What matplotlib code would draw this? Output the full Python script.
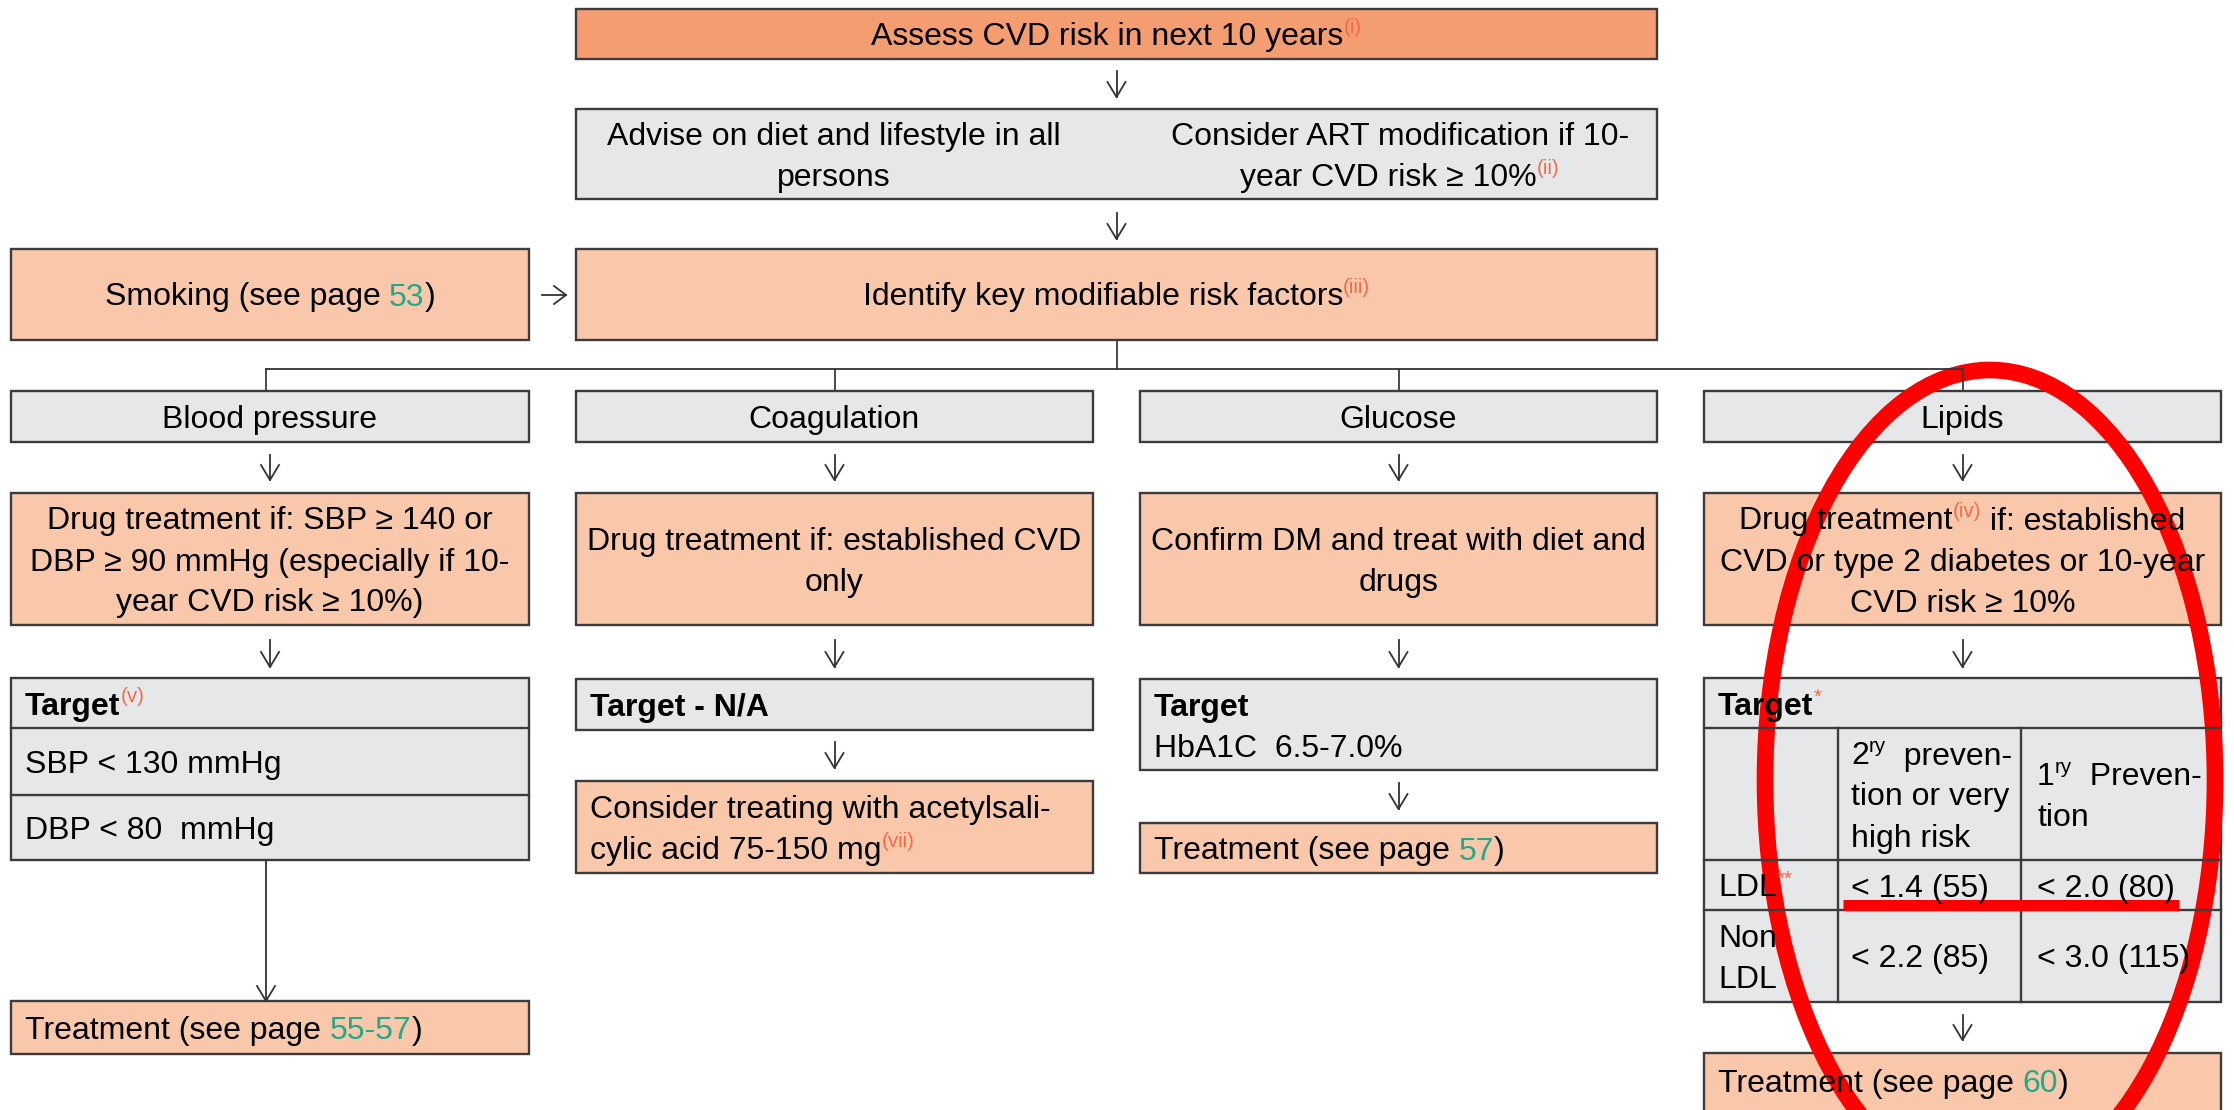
import re
import matplotlib.pyplot as plt
from matplotlib.patches import Rectangle, Ellipse

plt.rcParams['font.family'] = ['Liberation Sans', 'DejaVu Sans']

# ---- text content of the flow chart ----
# markup: ^{..} red superscript, ~{..} black superscript, #{..} green page ref
top_text = 'Assess CVD risk in next 10 years^{(i)}'
advise_left = ['Advise on diet and lifestyle in all', 'persons']
advise_right = ['Consider ART modification if 10-', 'year CVD risk ≥ 10%^{(ii)}']
smoking_text = 'Smoking (see page #{53})'
identify_text = 'Identify key modifiable risk factors^{(iii)}'
risk_factors = ['Blood pressure', 'Coagulation', 'Glucose', 'Lipids']
drug_treatment = [
    ['Drug treatment if: SBP ≥ 140 or', 'DBP ≥ 90 mmHg (especially if 10-',
     'year CVD risk ≥ 10%)'],
    ['Drug treatment if: established CVD', 'only'],
    ['Confirm DM and treat with diet and', 'drugs'],
    ['Drug treatment^{(iv)} if: established', 'CVD or type 2 diabetes or 10-year',
     'CVD risk ≥ 10%'],
]
bp_header = 'Target^{(v)}'
bp_targets = ['SBP < 130 mmHg', 'DBP < 80  mmHg']
coag_header = 'Target - N/A'
aspirin_text = ['Consider treating with acetylsali-', 'cylic acid 75-150 mg^{(vii)}']
glucose_header = 'Target'
glucose_target = 'HbA1C  6.5-7.0%'
lipid_header = 'Target^{*}'
lipid_cols = [['2~{ry}  preven-', 'tion or very', 'high risk'], ['1~{ry}  Preven-', 'tion']]
lipid_rows = [['LDL^{**}'], ['Non', 'LDL']]
lipid_values = [['< 1.4 (55)', '< 2.0 (80)'], ['< 2.2 (85)', '< 3.0 (115)']]
treatment_text = ['Treatment (see page #{55-57})', 'Treatment (see page #{57})',
                  'Treatment (see page #{60})']

# ---- styles ----
W, H = 2234, 1110
FS = 23
SUP = 0.64
PX = 100 / 72
DARK = '#F49D70'
LIGHT = '#F9C8AA'
GREY = '#E6E7E8'
EDGE = '#3C3C3C'
LINE = '#333333'
GREEN = '#22A98A'
SUPRED = '#F26A48'

fig = plt.figure(figsize=(W / 100, H / 100), dpi=100)
ax = fig.add_axes([0, 0, 1, 1])
ax.set_xlim(0, W)
ax.set_ylim(H, 0)
ax.axis('off')
renderer = fig.canvas.get_renderer()


def text_width(s, size, weight='normal'):
    t = ax.text(0, 0, '|' + s + '|', fontsize=size, weight=weight)
    w = t.get_window_extent(renderer).width
    t.set_text('||')
    w -= t.get_window_extent(renderer).width
    t.remove()
    return w


def parse(s):
    parts = []
    for tok in re.split(r'([\^#~]\{[^}]*\})', s):
        if not tok:
            continue
        if tok[0] in '^#~' and tok[1:2] == '{':
            body = tok[2:-1]
            if tok[0] == '^':
                parts.append((body, SUPRED, True))
            elif tok[0] == '~':
                parts.append((body, 'black', True))
            else:
                parts.append((body, GREEN, False))
        else:
            parts.append((tok, 'black', False))
    return parts


def rich(x, y, s, ha='center', weight='normal'):
    parts = parse(s)
    widths = []
    for p, c, sup in parts:
        if sup:
            widths.append(text_width(p, FS * SUP))
        else:
            widths.append(text_width(p, FS, weight))
    x0 = x - sum(widths) / 2 if ha == 'center' else x
    for (p, c, sup), w in zip(parts, widths):
        if sup:
            ax.text(x0, y - 0.38 * FS * PX, p, fontsize=FS * SUP, color=c,
                    ha='left', va='baseline')
        else:
            ax.text(x0, y, p, fontsize=FS, color=c, weight=weight,
                    ha='left', va='baseline')
        x0 += w


def lines_in(x, cy, lines, ha='center', weight='normal', gap=41):
    n = len(lines)
    for i, s in enumerate(lines):
        rich(x, cy + 11.5 + (i - (n - 1) / 2) * gap, s, ha=ha, weight=weight)


def box(x0, y0, x1, y1, fc):
    ax.add_patch(Rectangle((x0, y0), x1 - x0, y1 - y0, fc=fc, ec=EDGE, lw=1.7))


def hline(x0, x1, y):
    ax.plot([x0, x1], [y, y], color=EDGE, lw=1.7)


def vline(x, y0, y1, lw=1.7):
    ax.plot([x, x], [y0, y1], color=EDGE, lw=lw)


def arrow_down(x, y0, y1):
    ax.plot([x, x], [y0, y1], color=LINE, lw=1.3)
    ax.plot([x - 9, x, x + 9], [y1 - 15, y1, y1 - 15], color=LINE, lw=1.3)


def arrow_right(x0, x1, y):
    ax.plot([x0, x1], [y, y], color=LINE, lw=1.3)
    ax.plot([x1 - 12, x1, x1 - 12], [y - 9, y, y + 9], color=LINE, lw=1.3)


cols = [(11, 529), (576, 1093), (1140, 1657), (1704, 2221)]
centers = [(a + b) / 2 for a, b in cols]
mid = (cols[1][0] + cols[2][1]) / 2

# ---- top part ----
box(576, 9, 1657, 59, DARK)
lines_in(mid, 34, [top_text])
arrow_down(mid, 71, 97)

box(576, 109, 1657, 199, GREY)
lines_in(834, 154, advise_left)
lines_in(1400, 154, advise_right)
arrow_down(mid, 213, 239)

box(576, 249, 1657, 340, LIGHT)
lines_in(mid, 294, [identify_text])
box(11, 249, 529, 340, LIGHT)
lines_in(centers[0], 294, [smoking_text])
arrow_right(542, 566, 295)

# connector to the four risk factors
vline(mid, 340, 369, lw=1.3)
ax.plot([centers[0] - 4, centers[3]], [369, 369], color=LINE, lw=1.3)
for i, c in enumerate(centers):
    vline(c - 4 if i == 0 else c, 369, 391, lw=1.3)

for (x0, x1), c, name, drug in zip(cols, centers, risk_factors, drug_treatment):
    box(x0, 391, x1, 442, GREY)
    lines_in(c, 416.5, [name])
    arrow_down(c, 455, 480)
    box(x0, 493, x1, 625, LIGHT)
    lines_in(c, 559, drug)
    arrow_down(c, 640, 667)

# ---- blood pressure column ----
x0, x1 = cols[0]
box(x0, 678, x1, 860, GREY)
hline(x0, x1, 728)
hline(x0, x1, 795)
lines_in(25, 703, [bp_header], ha='left', weight='bold')
lines_in(25, 761.5, [bp_targets[0]], ha='left')
lines_in(25, 827.5, [bp_targets[1]], ha='left')
arrow_down(centers[0] - 4, 860, 1001)
box(x0, 1001, x1, 1054, LIGHT)
lines_in(25, 1027.5, [treatment_text[0]], ha='left')

# ---- coagulation column ----
x0, x1 = cols[1]
box(x0, 679, x1, 730, GREY)
lines_in(590, 704.5, [coag_header], ha='left', weight='bold')
arrow_down(centers[1], 742, 768)
box(x0, 781, x1, 873, LIGHT)
lines_in(590, 827, aspirin_text, ha='left')

# ---- glucose column ----
x0, x1 = cols[2]
box(x0, 679, x1, 770, GREY)
rich(1154, 716, glucose_header, ha='left', weight='bold')
rich(1154, 757, glucose_target, ha='left')
arrow_down(centers[2], 783, 809)
box(x0, 823, x1, 873, LIGHT)
lines_in(1154, 848, [treatment_text[1]], ha='left')

# ---- lipids column ----
x0, x1 = cols[3]
xa, xb = 1838, 2021
box(x0, 678, x1, 1002, GREY)
hline(x0, x1, 728)
hline(x0, x1, 860)
hline(x0, x1, 910)
vline(xa, 728, 1002)
vline(xb, 728, 1002)
lines_in(1718, 703, [lipid_header], ha='left', weight='bold')
lines_in(1851, 794, lipid_cols[0], ha='left')
lines_in(2037, 794, lipid_cols[1], ha='left')
row_cy = [885, 956]
for cy, lab, vals in zip(row_cy, lipid_rows, lipid_values):
    lines_in(1718, cy, lab, ha='left')
    lines_in(1851, cy, [vals[0]], ha='left')
    lines_in(2037, cy, [vals[1]], ha='left')
arrow_down(centers[3], 1015, 1040)
box(x0, 1053, x1, 1130, LIGHT)
rich(1718, 1092, treatment_text[2], ha='left')

# ---- red hand-drawn highlight ----
ax.add_patch(Ellipse((1990, 780), 450, 820, fill=False, ec='#FF0000', lw=12))
ax.plot([1843, 2179], [905, 905], color='#FF0000', lw=8, solid_capstyle='butt')

fig.savefig('out.png', dpi=100, facecolor='white')
